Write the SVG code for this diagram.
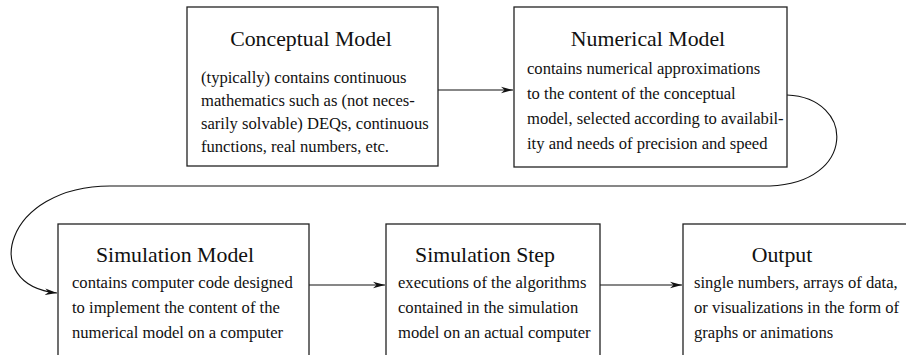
<svg xmlns="http://www.w3.org/2000/svg" width="906" height="355" viewBox="0 0 906 355">
<defs>
<style>
.box{fill:#fff;stroke:#222;stroke-width:1.3}
.title{font-size:21.8px;fill:#111;text-anchor:middle}
.body{font-size:16.6px;fill:#111}
.conn{fill:none;stroke:#111;stroke-width:1.1}
</style>
<marker id="arr" viewBox="0 0 12 8" refX="12" refY="4" markerWidth="12" markerHeight="8" markerUnits="userSpaceOnUse" orient="auto">
<path d="M0,0.8 L12,4 L0,7.2 L3.5,4 Z" fill="#111"/>
</marker>
</defs>
<rect width="906" height="355" fill="#fff"/>
<g id="connectors">
<line class="conn" x1="438" y1="90" x2="513" y2="90" marker-end="url(#arr)"/>
<path class="conn" d="M787,95 C856,98 856,183 770,186 L110,186 C5,186 -22,285 57,293" marker-end="url(#arr)"/>
<line class="conn" x1="309" y1="285" x2="385" y2="285" marker-end="url(#arr)"/>
<line class="conn" x1="600" y1="285" x2="682" y2="285" marker-end="url(#arr)"/>
</g>
<g font-family="Liberation Serif, Tinos, DejaVu Serif, Noto Serif, serif">
<g id="conceptual">
<rect class="box" x="187" y="7" width="251" height="159"/>
<text class="title" x="311" y="46">Conceptual Model</text>
<text class="body" x="201" y="83">(typically) contains continuous</text>
<text class="body" x="201" y="106">mathematics such as (not neces-</text>
<text class="body" x="201" y="129">sarily solvable) DEQs, continuous</text>
<text class="body" x="201" y="152">functions, real numbers, etc.</text>
</g>
<g id="numerical">
<rect class="box" x="514" y="7" width="273" height="160"/>
<text class="title" x="648" y="46">Numerical Model</text>
<text class="body" x="527" y="74">contains numerical approximations</text>
<text class="body" x="527" y="99">to the content of the conceptual</text>
<text class="body" x="527" y="124">model, selected according to availabil-</text>
<text class="body" x="527" y="149">ity and needs of precision and speed</text>
</g>
<g id="simmodel">
<rect class="box" x="58" y="224" width="251" height="140"/>
<text class="title" x="175" y="262">Simulation Model</text>
<text class="body" x="72" y="288">contains computer code designed</text>
<text class="body" x="72" y="313">to implement the content of the</text>
<text class="body" x="72" y="338">numerical model on a computer</text>
</g>
<g id="simstep">
<rect class="box" x="386" y="224" width="214" height="140"/>
<text class="title" x="485" y="262">Simulation Step</text>
<text class="body" x="398" y="288">executions of the algorithms</text>
<text class="body" x="398" y="313">contained in the simulation</text>
<text class="body" x="398" y="338">model on an actual computer</text>
</g>
<g id="output">
<rect class="box" x="683" y="224" width="240" height="140"/>
<text class="title" x="782" y="262">Output</text>
<text class="body" x="694" y="288">single numbers, arrays of data,</text>
<text class="body" x="694" y="313">or visualizations in the form of</text>
<text class="body" x="694" y="338">graphs or animations</text>
</g>
</g>
</svg>
